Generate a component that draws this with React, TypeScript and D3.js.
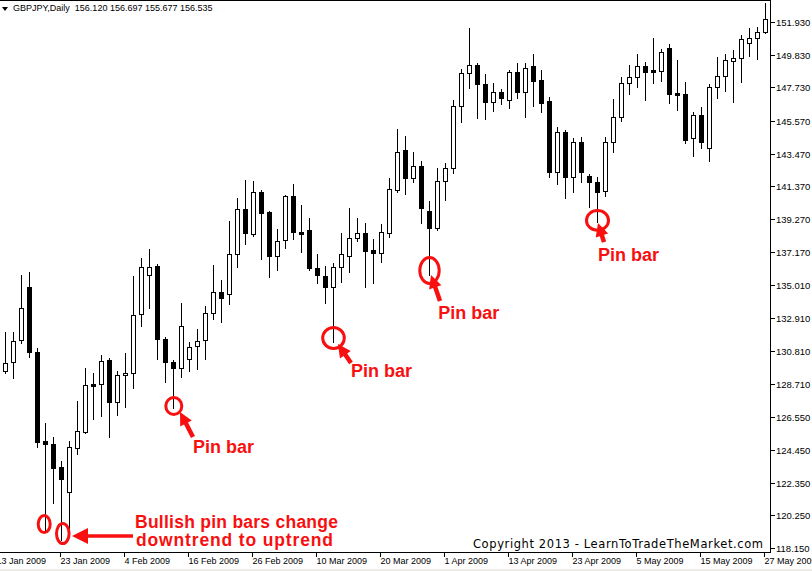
import React from 'react'
import * as d3 from 'd3'

// GBPJPY daily, 14 Jan 2009 .. 27 May 2009 (one bar per weekday)
const OPEN = [
  129.51, 130.09, 131.51, 134.91, 130.73, 125.02, 124.83, 123.35, 121.74, 124.57,
  125.60, 128.68, 128.68, 130.22, 127.52, 129.26, 129.39, 133.18, 135.68, 136.26,
  131.57, 130.09, 129.71, 130.29, 131.12, 131.51, 133.24, 134.59, 134.46, 137.03,
  139.92, 138.31, 141.01, 139.73, 136.90, 137.93, 140.75, 138.44, 138.57, 136.13,
  135.62, 134.91, 136.19, 136.90, 138.06, 138.38, 137.29, 137.09, 138.38, 141.14,
  143.71, 141.91, 142.68, 139.79, 138.70, 141.72, 142.55, 146.53, 148.65, 149.17,
  147.95, 146.79, 147.43, 146.92, 148.72, 147.43, 149.10, 148.20, 146.85, 142.29,
  144.86, 141.97, 144.22, 142.04, 141.65, 141.07, 144.22, 145.83, 148.01, 148.40,
  149.10, 148.84, 148.78, 150.26, 147.37, 147.30, 144.48, 145.95, 143.84, 147.75,
  148.46, 149.42, 149.62, 150.58, 150.90, 151.29,
]
const HIGH = [
  132.02, 132.02, 135.68, 135.87, 130.99, 126.18, 125.28, 123.73, 125.02, 127.59,
  129.71, 129.39, 130.54, 130.35, 129.51, 130.67, 135.62, 136.77, 137.35, 136.39,
  131.70, 130.22, 133.88, 131.38, 132.21, 133.69, 136.32, 135.36, 139.15, 140.62,
  141.78, 141.72, 141.14, 139.79, 138.63, 140.82, 141.52, 140.18, 139.34, 137.03,
  136.26, 136.45, 138.38, 139.98, 139.34, 139.02, 137.99, 138.95, 141.91, 145.06,
  144.61, 143.58, 143.00, 140.43, 142.55, 142.87, 146.92, 148.91, 151.54, 149.29,
  148.59, 148.01, 147.62, 148.84, 149.29, 149.29, 149.87, 148.84, 147.11, 145.18,
  144.99, 144.48, 144.54, 142.17, 141.97, 144.54, 146.98, 148.40, 149.17, 149.87,
  149.36, 150.90, 150.19, 150.51, 149.49, 148.07, 146.15, 146.47, 147.95, 149.68,
  149.87, 150.13, 151.09, 151.54, 151.61, 153.15,
]
const LOW = [
  129.39, 129.06, 131.31, 130.41, 124.63, 119.30, 121.04, 118.66, 118.85, 124.18,
  125.53, 126.43, 126.62, 125.28, 126.69, 127.20, 128.42, 132.40, 133.56, 130.29,
  128.81, 127.14, 129.13, 129.51, 129.64, 130.29, 132.85, 132.66, 133.82, 136.19,
  137.67, 138.18, 136.71, 135.55, 136.00, 137.41, 137.99, 137.16, 136.00, 135.17,
  133.88, 131.38, 135.23, 135.87, 137.86, 134.91, 135.17, 136.51, 138.12, 141.01,
  140.88, 141.65, 139.02, 135.68, 138.57, 140.50, 142.23, 145.51, 147.69, 145.76,
  145.70, 146.21, 146.66, 146.40, 147.05, 145.83, 146.53, 146.15, 141.97, 141.52,
  140.62, 141.01, 141.65, 140.05, 139.08, 140.75, 143.58, 145.57, 147.30, 147.75,
  146.92, 148.01, 148.14, 146.73, 146.28, 144.16, 143.32, 143.84, 143.00, 147.05,
  147.50, 146.79, 148.07, 149.74, 149.55, 151.22,
]
const CLOSE = [
  130.03, 131.44, 133.56, 130.73, 124.95, 124.83, 123.29, 122.58, 124.63, 125.66,
  128.62, 128.55, 130.16, 127.52, 129.26, 129.39, 133.11, 136.19, 136.19, 131.57,
  130.09, 129.71, 132.40, 131.06, 131.44, 133.24, 134.59, 134.20, 137.03, 139.92,
  138.38, 141.01, 139.66, 136.90, 137.86, 140.75, 138.44, 138.31, 136.13, 135.68,
  134.91, 136.19, 137.03, 138.06, 138.38, 137.22, 137.09, 138.44, 141.20, 143.58,
  141.91, 142.68, 139.98, 138.70, 141.72, 142.55, 146.53, 148.65, 149.17, 147.95,
  146.79, 147.43, 147.05, 148.72, 147.43, 148.97, 148.14, 146.73, 142.29, 144.86,
  141.97, 144.22, 142.29, 141.65, 141.01, 144.22, 145.83, 148.01, 148.40, 149.10,
  148.72, 148.72, 150.00, 147.30, 147.24, 144.35, 145.95, 144.22, 147.75, 148.46,
  149.49, 149.62, 150.84, 150.90, 151.29, 152.12,
]

const DATE_LABELS = [
  '13 Jan 2009', '23 Jan 2009', '4 Feb 2009', '16 Feb 2009', '26 Feb 2009', '10 Mar 2009',
  '20 Mar 2009', '1 Apr 2009', '13 Apr 2009', '23 Apr 2009', '5 May 2009', '15 May 2009', '27 May 2009',
]
const DATE_INDEX = [-1, 7, 15, 23, 31, 39, 47, 55, 63, 71, 79, 87, 95]

const PRICE_TICKS = [
  151.93, 149.83, 147.73, 145.57, 143.47, 141.37, 139.27, 137.17, 135.01,
  132.91, 130.81, 128.71, 126.55, 124.45, 122.35, 120.25, 118.15,
]

const SYMBOL = 'GBPJPY,Daily'
const QUOTE = ['156.120', '156.697', '155.677', '156.535']
const COPYRIGHT = 'Copyright 2013 - LearnToTradeTheMarket.com'

// annotation layout (offsets from the bar's low)
const PIN_BARS = [
  { i: 21, c: [0.3, -2], r: [8, 8.5], tip: [6.5, 4], tail: [19.5, 29], text: [19.5, 45] },
  { i: 41, c: [0, -4], r: [10.8, 10.5], tip: [4.5, 2], tail: [17.5, 21], text: [17.5, 35] },
  { i: 53, c: [0, -4.5], r: [9.7, 13], tip: [1.5, 0], tail: [10.5, 26], text: [8.8, 44] },
  { i: 74, c: [0, -1.7], r: [11, 9.8], tip: [0.5, 1], tail: [6.5, 20], text: [0.5, 39] },
]
const BULLISH = [
  { i: 5, c: [-1.3, -6], r: [6, 8.5] },
  { i: 7, c: [1.3, -6.5], r: [6.3, 10] },
]

const W = 812
const H = 571
const AX = 770.5
const AY = 552.5
const RED = '#f81010'
const AXIS_FONT = "'Liberation Sans', Arial, sans-serif"

function arrow(tx: number, ty: number, sx: number, sy: number, head: number, half: number, shaft: number) {
  const dx = tx - sx, dy = ty - sy
  const len = Math.hypot(dx, dy)
  const ux = dx / len, uy = dy / len
  const nx = -uy, ny = ux
  const bx = tx - ux * head, by = ty - uy * head
  const s = shaft / 2
  const pts: [number, number][] = [
    [tx, ty],
    [bx + nx * half, by + ny * half],
    [bx + nx * s, by + ny * s],
    [sx + nx * s, sy + ny * s],
    [sx - nx * s, sy - ny * s],
    [bx - nx * s, by - ny * s],
    [bx - nx * half, by - ny * half],
  ]
  return d3.line()(pts) + 'Z'
}

export default function App() {
  const x = d3.scaleLinear().domain([0, 95]).range([5.5, 765.5])
  const y = d3.scaleLinear().domain([118.15, 151.93]).range([548, 22])

  const bars = OPEN.map((o, i) => ({ o, h: HIGH[i], l: LOW[i], c: CLOSE[i], i }))

  return (
    <div style={{ position: 'absolute', left: 0, top: 0 }}>
      <svg width={W} height={H} style={{ display: 'block', background: '#fff' }}>
        <rect x={0} y={569} width={W} height={2} fill="#ededE5" />

        {/* frame & axes */}
        <g shapeRendering="crispEdges" stroke="#000" strokeWidth={1}>
          <line x1={0} x2={AX} y1={0.5} y2={0.5} />
          <line x1={AX} x2={AX} y1={0} y2={AY} />
          <line x1={0} x2={AX} y1={AY} y2={AY} />
          {PRICE_TICKS.map(p => (
            <line key={p} x1={AX} x2={AX + 4} y1={Math.round(y(p)) + 0.5} y2={Math.round(y(p)) + 0.5} />
          ))}
          {DATE_INDEX.map(i => (
            <line key={i} x1={x(i) - 1} x2={x(i) - 1} y1={AY} y2={AY + 4} />
          ))}
        </g>

        {/* axis labels */}
        <g fontFamily={AXIS_FONT} fill="#000">
          {PRICE_TICKS.map(p => (
            <text key={p} x={776} y={Math.round(y(p)) + 3.5} fontSize={9.5}>{p.toFixed(3)}</text>
          ))}
          {DATE_LABELS.map((d, k) => (
            <text key={d} x={x(DATE_INDEX[k]) - 1} y={563.5} fontSize={9}>{d}</text>
          ))}
        </g>

        {/* candles */}
        <g shapeRendering="crispEdges">
          {bars.map(b => {
            const cx = x(b.i)
            const top = Math.round(y(Math.max(b.o, b.c)))
            const bot = Math.round(y(Math.min(b.o, b.c)))
            const bull = b.c >= b.o
            return (
              <g key={b.i}>
                <line x1={cx} x2={cx} y1={Math.round(y(b.h))} y2={Math.round(y(b.l)) + 1} stroke="#000" strokeWidth={1} />
                {bull ? (
                  <rect x={cx - 2} y={top + 0.5} width={4} height={Math.max(bot - top, 1)} fill="#fff" stroke="#000" strokeWidth={1} />
                ) : (
                  <rect x={cx - 2.5} y={top} width={5} height={Math.max(bot - top, 1) + 1} fill="#000" />
                )}
              </g>
            )
          })}
        </g>

        {/* header */}
        <path d="M2,7 L8,7 L5,11 Z" fill="#000" />
        <text x={13} y={11} fontFamily={AXIS_FONT} fontSize={9} fill="#000" xmlSpace="preserve">
          {SYMBOL + '  ' + QUOTE.join(' ')}
        </text>

        {/* pin bar annotations */}
        {PIN_BARS.map(a => {
          const bx = x(a.i), by = y(LOW[a.i])
          return (
            <g key={a.i}>
              <ellipse cx={bx + a.c[0]} cy={by + a.c[1]} rx={a.r[0]} ry={a.r[1]} fill="none" stroke={RED} strokeWidth={3} />
              <path d={arrow(bx + a.tip[0], by + a.tip[1], bx + a.tail[0], by + a.tail[1], 13, 6.5, 4.5)} fill={RED} />
              <text x={bx + a.text[0]} y={by + a.text[1]} fontFamily={AXIS_FONT} fontWeight="bold" fontSize={18} fill={RED}>Pin bar</text>
            </g>
          )
        })}

        {BULLISH.map(a => (
          <ellipse key={a.i} cx={x(a.i) + a.c[0]} cy={y(LOW[a.i]) + a.c[1]} rx={a.r[0]} ry={a.r[1]} fill="none" stroke={RED} strokeWidth={3} />
        ))}
        <path
          d={arrow(x(7) + 10.5, y(LOW[7]) - 4, x(7) + 71.5, y(LOW[7]) - 4, 16, 8, 3.5)}
          fill={RED}
        />
        <g fontFamily={AXIS_FONT} fontWeight="bold" fontSize={17.5} fill={RED}>
          <text x={135} y={527.5} textLength={203} lengthAdjust="spacing">Bullish pin bars change</text>
          <text x={136} y={545.5} textLength={197} lengthAdjust="spacing">downtrend to uptrend</text>
        </g>

        <text x={473} y={548} fontFamily="'DejaVu Sans', Verdana, sans-serif" fontSize={11.5} fill="#000" textLength={290} lengthAdjust="spacing">
          {COPYRIGHT}
        </text>
      </svg>
    </div>
  )
}
